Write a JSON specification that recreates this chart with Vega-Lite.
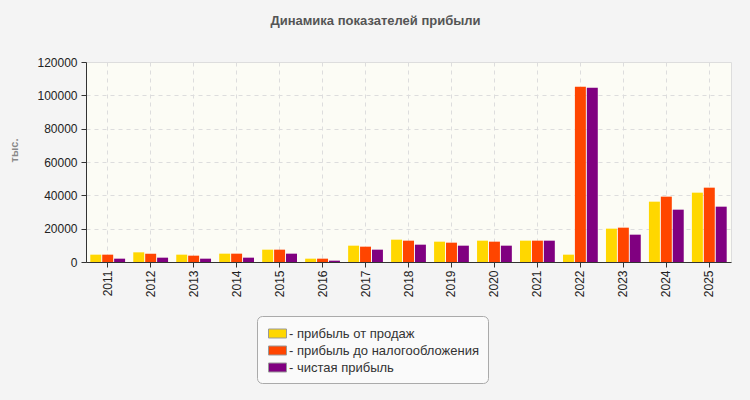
{
  "$schema": "https://vega.github.io/schema/vega-lite/v6.json",
  "autosize": {"type": "none"},
  "width": 645,
  "height": 200,
  "padding": {"left": 86, "top": 62, "right": 19, "bottom": 138},
  "background": "#f4f4f4",
  "config": {
    "font": "Liberation Sans",
    "view": {"fill": "#fcfcf5", "stroke": "#dddddd"}
  },
  "title": {
    "text": "Динамика показателей прибыли",
    "fontSize": 13,
    "fontWeight": "bold",
    "color": "#555555",
    "anchor": "middle",
    "dx": -33,
    "offset": 18,
    "baseline": "alphabetic"
  },
  "data": {
    "values": [
      {"year": "2011", "series": "прибыль от продаж", "value": 4400},
      {"year": "2011", "series": "прибыль до налогообложения", "value": 4400},
      {"year": "2011", "series": "чистая прибыль", "value": 2000},
      {"year": "2012", "series": "прибыль от продаж", "value": 5800},
      {"year": "2012", "series": "прибыль до налогообложения", "value": 5000},
      {"year": "2012", "series": "чистая прибыль", "value": 2600},
      {"year": "2013", "series": "прибыль от продаж", "value": 4400},
      {"year": "2013", "series": "прибыль до налогообложения", "value": 3800},
      {"year": "2013", "series": "чистая прибыль", "value": 2000},
      {"year": "2014", "series": "прибыль от продаж", "value": 5000},
      {"year": "2014", "series": "прибыль до налогообложения", "value": 5000},
      {"year": "2014", "series": "чистая прибыль", "value": 2600},
      {"year": "2015", "series": "прибыль от продаж", "value": 7400},
      {"year": "2015", "series": "прибыль до налогообложения", "value": 7400},
      {"year": "2015", "series": "чистая прибыль", "value": 5000},
      {"year": "2016", "series": "прибыль от продаж", "value": 2000},
      {"year": "2016", "series": "прибыль до налогообложения", "value": 2000},
      {"year": "2016", "series": "чистая прибыль", "value": 800},
      {"year": "2017", "series": "прибыль от продаж", "value": 9800},
      {"year": "2017", "series": "прибыль до налогообложения", "value": 9200},
      {"year": "2017", "series": "чистая прибыль", "value": 7400},
      {"year": "2018", "series": "прибыль от продаж", "value": 13400},
      {"year": "2018", "series": "прибыль до налогообложения", "value": 12800},
      {"year": "2018", "series": "чистая прибыль", "value": 10400},
      {"year": "2019", "series": "прибыль от продаж", "value": 12200},
      {"year": "2019", "series": "прибыль до налогообложения", "value": 11600},
      {"year": "2019", "series": "чистая прибыль", "value": 9800},
      {"year": "2020", "series": "прибыль от продаж", "value": 12800},
      {"year": "2020", "series": "прибыль до налогообложения", "value": 12200},
      {"year": "2020", "series": "чистая прибыль", "value": 9800},
      {"year": "2021", "series": "прибыль от продаж", "value": 12800},
      {"year": "2021", "series": "прибыль до налогообложения", "value": 12800},
      {"year": "2021", "series": "чистая прибыль", "value": 12800},
      {"year": "2022", "series": "прибыль от продаж", "value": 4400},
      {"year": "2022", "series": "прибыль до налогообложения", "value": 105200},
      {"year": "2022", "series": "чистая прибыль", "value": 104600},
      {"year": "2023", "series": "прибыль от продаж", "value": 20000},
      {"year": "2023", "series": "прибыль до налогообложения", "value": 20600},
      {"year": "2023", "series": "чистая прибыль", "value": 16400},
      {"year": "2024", "series": "прибыль от продаж", "value": 36200},
      {"year": "2024", "series": "прибыль до налогообложения", "value": 39200},
      {"year": "2024", "series": "чистая прибыль", "value": 31400},
      {"year": "2025", "series": "прибыль от продаж", "value": 41600},
      {"year": "2025", "series": "прибыль до налогообложения", "value": 44600},
      {"year": "2025", "series": "чистая прибыль", "value": 33200}
    ]
  },
  "mark": {"type": "bar"},
  "encoding": {
    "x": {
      "field": "year",
      "type": "nominal",
      "scale": {"paddingInner": 0.19, "paddingOuter": 0.1},
      "axis": {
        "title": null,
        "labelAngle": -90,
        "labelFontSize": 12,
        "labelColor": "#222222",
        "labelPadding": 3,
        "grid": true,
        "gridDash": [4, 4],
        "gridColor": "#dddddd",
        "domainColor": "#333333",
        "tickColor": "#333333",
        "tickSize": 5,
        "bandPosition": 0.5
      }
    },
    "xOffset": {
      "field": "series",
      "type": "nominal",
      "sort": ["прибыль от продаж", "прибыль до налогообложения", "чистая прибыль"],
      "scale": {"paddingInner": 0.08}
    },
    "y": {
      "field": "value",
      "type": "quantitative",
      "scale": {"domain": [0, 120000], "nice": false},
      "axis": {
        "values": [0, 20000, 40000, 60000, 80000, 100000, 120000],
        "format": "d",
        "title": "тыс.",
        "titleFontSize": 11,
        "titleFontWeight": "bold",
        "titleColor": "#888888",
        "titleX": -67,
        "titleY": 88,
        "titleAngle": -90,
        "labelFontSize": 12,
        "labelColor": "#222222",
        "labelPadding": 4,
        "grid": true,
        "gridDash": [4, 4],
        "gridColor": "#dddddd",
        "domainColor": "#333333",
        "tickColor": "#333333",
        "tickSize": 5
      }
    },
    "color": {
      "field": "series",
      "type": "nominal",
      "scale": {
        "domain": ["прибыль от продаж", "прибыль до налогообложения", "чистая прибыль"],
        "range": ["#FFD700", "#FF4500", "#800080"]
      },
      "legend": {
        "title": null,
        "orient": "none",
        "legendX": 171,
        "legendY": 254,
        "direction": "vertical",
        "fillColor": "#fafafa",
        "strokeColor": "#aaaaaa",
        "cornerRadius": 5,
        "padding": 8,
        "symbolOffset": 3,
        "labelExpr": "'- ' + datum.label",
        "labelLimit": 400,
        "symbolType": "M-1,-0.5H1V0.5H-1Z",
        "symbolSize": 324,
        "symbolStrokeColor": "#999999",
        "symbolStrokeWidth": 1,
        "symbolOpacity": 1,
        "labelFontSize": 13,
        "labelColor": "#333333",
        "labelOffset": 2,
        "rowPadding": -1
      }
    }
  }
}
